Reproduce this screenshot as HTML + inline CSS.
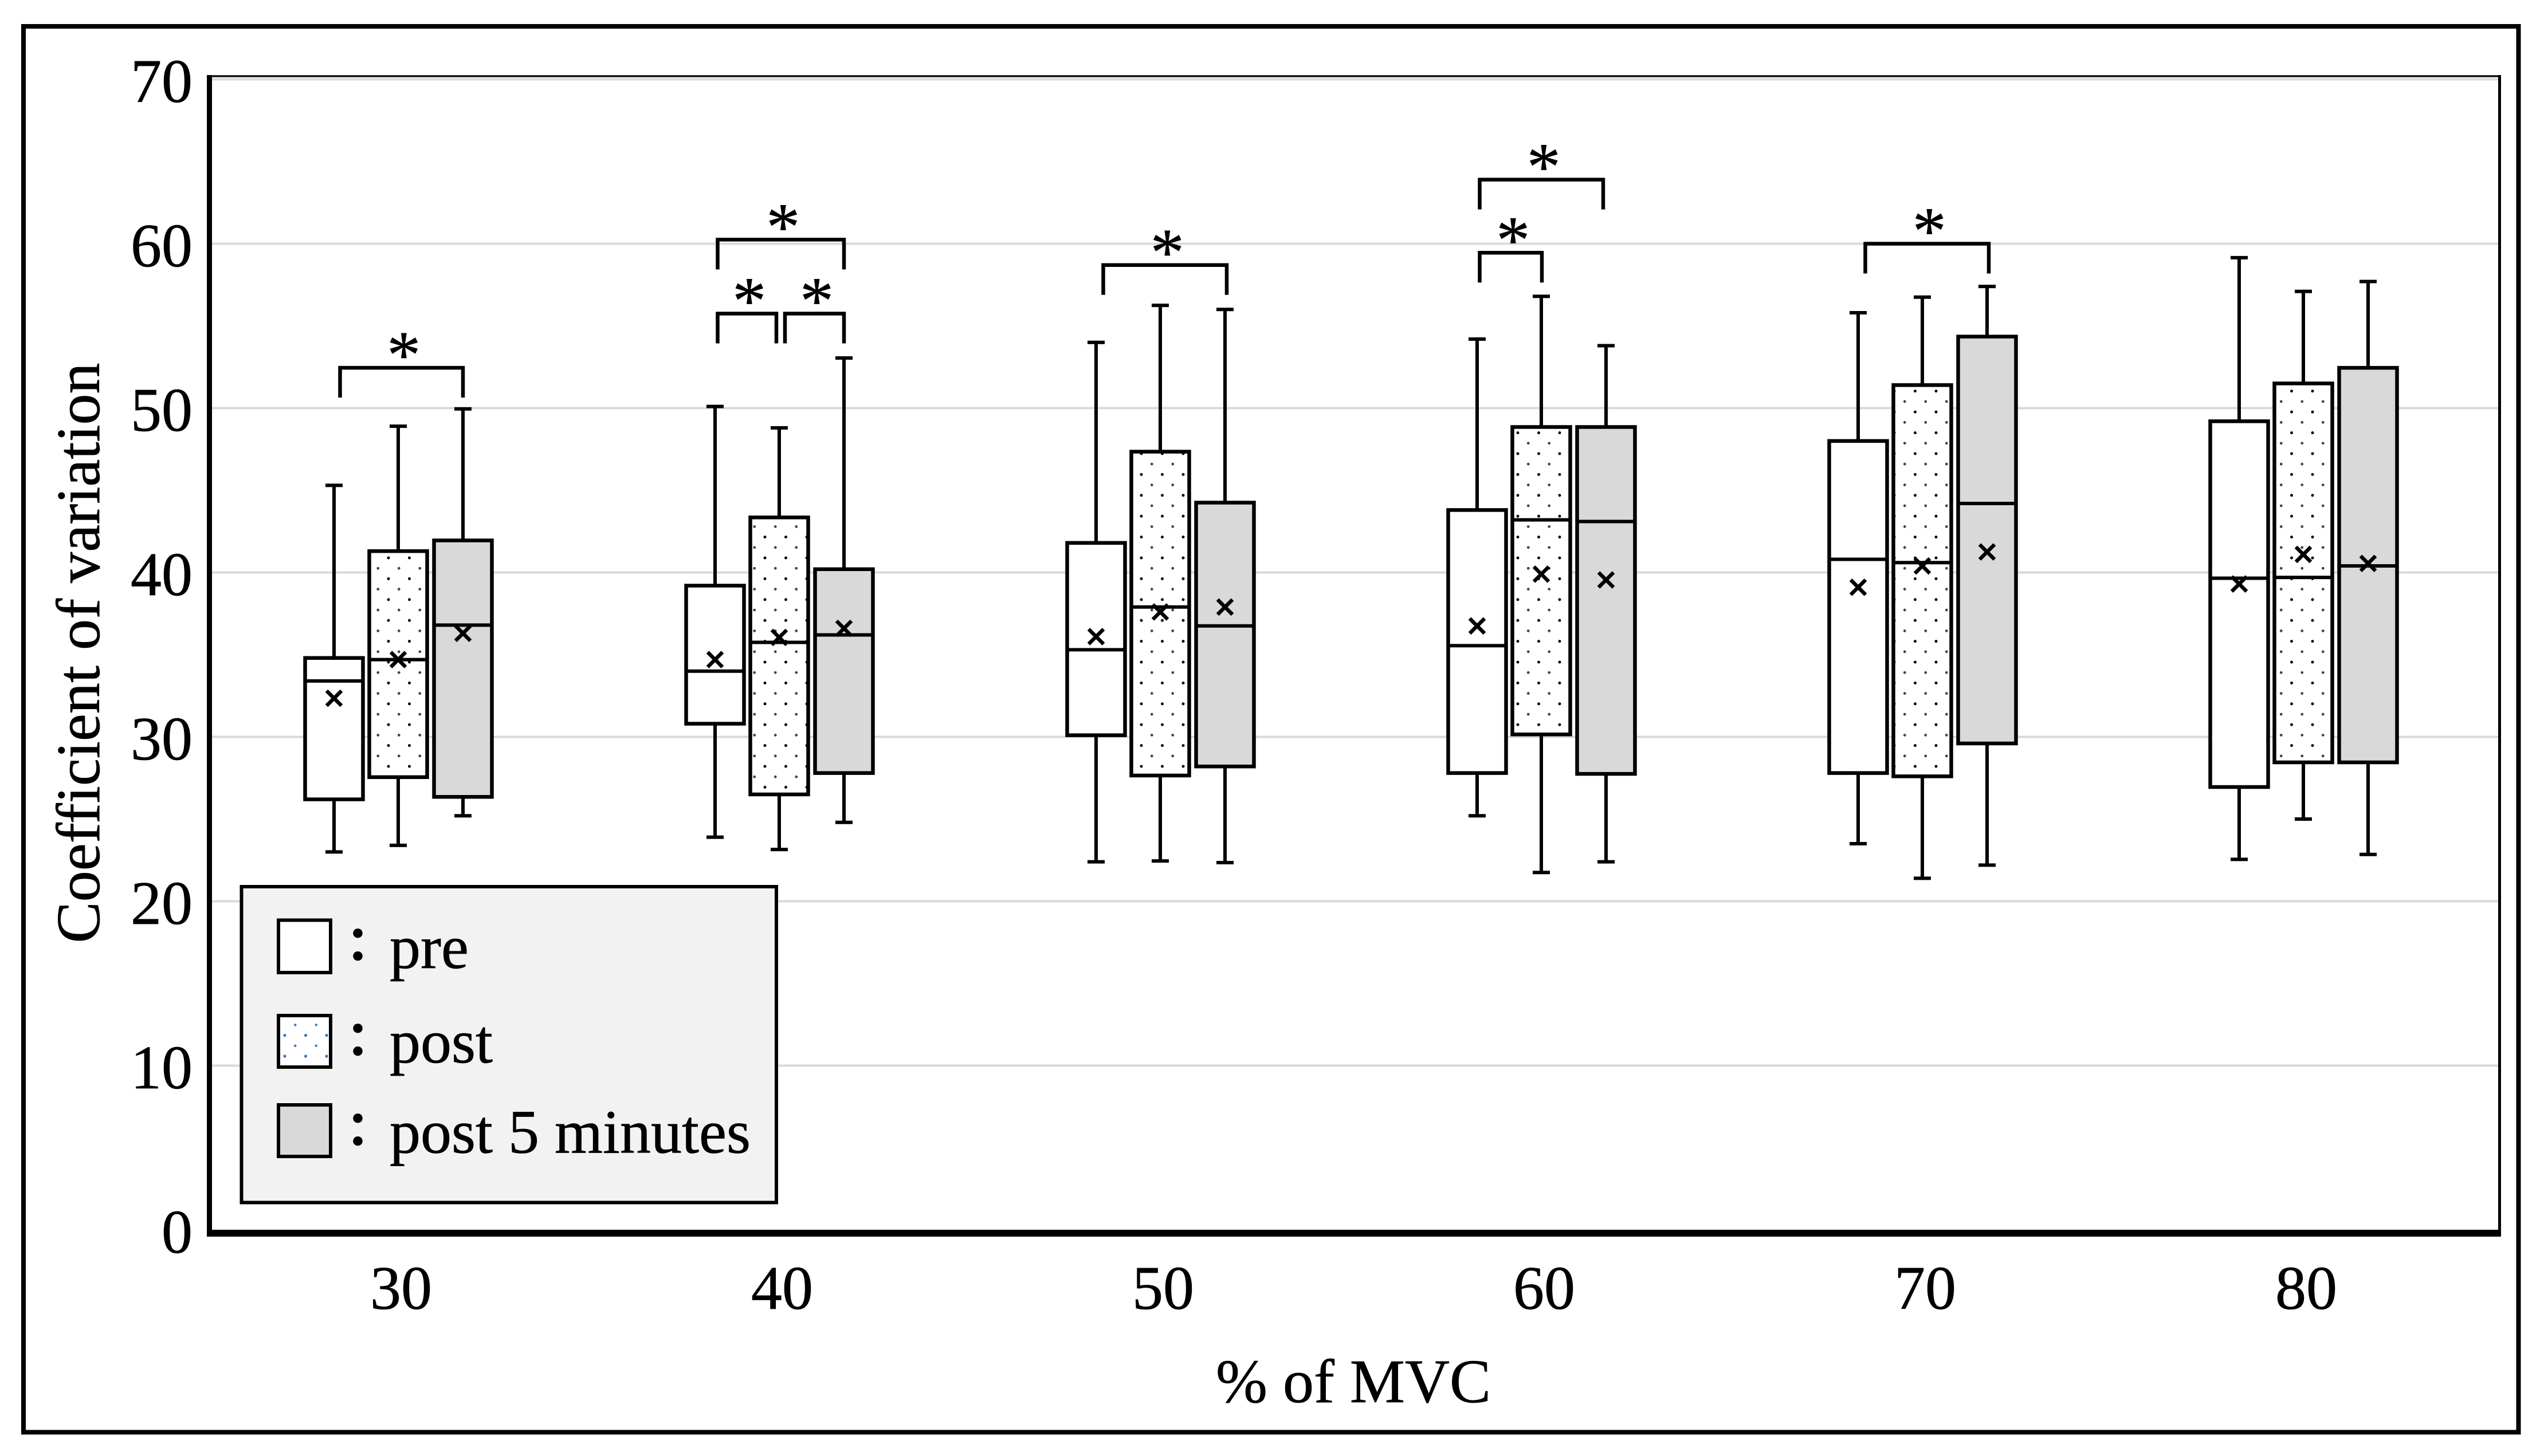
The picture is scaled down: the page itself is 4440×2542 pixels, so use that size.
<!DOCTYPE html>
<html lang="en">
<head>
<meta charset="utf-8">
<title>Coefficient of variation by % of MVC</title>
<style>
html,body{margin:0;padding:0;background:#fff;}
svg{display:block;}
text{font-family:"Liberation Serif","Noto Sans CJK JP",serif;fill:#000;font-size:108px;stroke:#000;stroke-width:0.7px;}
</style>
</head>
<body>
<svg id="chart" xmlns="http://www.w3.org/2000/svg" width="4440" height="2542" viewBox="0 0 4440 2542">
  <defs>
    <pattern id="dots" patternUnits="userSpaceOnUse" x="678" y="974" width="36.5" height="36.4">
      <circle cx="0" cy="0" r="2.5" fill="#000"/>
      <circle cx="36.5" cy="0" r="2.5" fill="#000"/>
      <circle cx="0" cy="36.4" r="2.5" fill="#000"/>
      <circle cx="36.5" cy="36.4" r="2.5" fill="#000"/>
      <circle cx="18.25" cy="18.2" r="2.4" fill="#444"/>
    </pattern>
    <pattern id="dots-legend" patternUnits="userSpaceOnUse" x="497" y="1807.6" width="36.5" height="36.4">
      <circle cx="0" cy="0" r="2.6" fill="#2f78c4"/>
      <circle cx="36.5" cy="0" r="2.6" fill="#2f78c4"/>
      <circle cx="0" cy="36.4" r="2.6" fill="#2f78c4"/>
      <circle cx="36.5" cy="36.4" r="2.6" fill="#2f78c4"/>
      <circle cx="18.25" cy="18.2" r="2.2" fill="#2f78c4"/>
    </pattern>
  </defs>

  <rect x="0" y="0" width="4440" height="2542" fill="#fff"/>
  <rect x="41" y="46" width="4354.5" height="2454.5" fill="none" stroke="#000" stroke-width="8"/>

  <g id="grid"></g>
  <g id="y-ticks"></g>
  <g id="x-ticks"></g>

  <line x1="361" y1="133" x2="4365" y2="133" stroke="#111" stroke-width="3.5"/>
  <line x1="4362.5" y1="131" x2="4362.5" y2="2159" stroke="#000" stroke-width="5"/>
  <line x1="365.5" y1="131" x2="365.5" y2="2159" stroke="#000" stroke-width="9"/>
  <line x1="361" y1="2153" x2="4365" y2="2153" stroke="#000" stroke-width="12"/>

  <text transform="translate(173,1140) rotate(-90)" text-anchor="middle" textLength="1013" lengthAdjust="spacingAndGlyphs">Coefficient of variation</text>
  <text x="2362" y="2448" text-anchor="middle">% of MVC</text>

  <g id="marks"></g>
  <g id="brackets"></g>

  <g>
    <rect x="421.5" y="1548" width="933.5" height="551.5" fill="#f2f2f2" stroke="#000" stroke-width="6"/>
    <g>
      <rect x="486" y="1606.5" width="91" height="91.5" fill="#fff" stroke="#000" stroke-width="6"/>
      <text x="624.5" y="1680" text-anchor="middle" style="font-family:'Noto Sans CJK JP',sans-serif;font-weight:700;font-size:83px">：</text>
      <text x="680" y="1690">pre</text>
    </g>
    <g>
      <rect x="486" y="1773" width="91" height="90" fill="#fff"/>
      <rect x="486" y="1773" width="91" height="90" fill="url(#dots-legend)" stroke="#000" stroke-width="6"/>
      <text x="624.5" y="1846" text-anchor="middle" style="font-family:'Noto Sans CJK JP',sans-serif;font-weight:700;font-size:83px">：</text>
      <text x="680" y="1855">post</text>
    </g>
    <g>
      <rect x="486" y="1929" width="91" height="90" fill="#d9d9d9" stroke="#000" stroke-width="6"/>
      <text x="624.5" y="2003" text-anchor="middle" style="font-family:'Noto Sans CJK JP',sans-serif;font-weight:700;font-size:83px">：</text>
      <text x="680" y="2012.5">post 5 minutes</text>
    </g>
  </g>
</svg>

<script>
const categories = [30, 40, 50, 60, 70, 80];
const yTicks = [0, 10, 20, 30, 40, 50, 60, 70];
const seriesNames = ['pre', 'post', 'post-5-minutes'];

const preLow  = [23.0, 23.9, 22.4, 25.2, 23.5, 22.55];
const preQ1   = [26.2, 30.8, 30.1, 27.8, 27.8, 26.95];
const preMed  = [33.4, 34.0, 35.3, 35.55, 40.8, 39.65];
const preQ3   = [34.8, 39.2, 41.8, 43.8, 48.0, 49.2];
const preHigh = [45.3, 50.1, 54.0, 54.2, 55.8, 59.15];
const preMean = [32.35, 34.7, 36.1, 36.75, 39.1, 39.3];

const postLow  = [23.4, 23.15, 22.45, 21.75, 21.4, 25.0];
const postQ1   = [27.55, 26.5, 27.65, 30.15, 27.6, 28.45];
const postMed  = [34.7, 35.75, 37.9, 43.2, 40.6, 39.7];
const postQ3   = [41.3, 43.35, 47.35, 48.85, 51.4, 51.5];
const postHigh = [48.9, 48.8, 56.25, 56.8, 56.75, 57.1];
const postMean = [34.7, 36.05, 37.6, 39.9, 40.4, 41.1];

const post5Low  = [25.2, 24.8, 22.35, 22.4, 22.2, 22.85];
const post5Q1   = [26.35, 27.8, 28.2, 27.75, 29.6, 28.45];
const post5Med  = [36.8, 36.2, 36.75, 43.1, 44.2, 40.4];
const post5Q3   = [41.95, 40.2, 44.25, 48.85, 54.35, 52.45];
const post5High = [49.95, 53.05, 56.0, 53.8, 57.4, 57.7];
const post5Mean = [36.3, 36.6, 37.9, 39.55, 41.25, 40.55];

const lows  = [preLow, postLow, post5Low];
const q1s   = [preQ1, postQ1, post5Q1];
const meds  = [preMed, postMed, post5Med];
const q3s   = [preQ3, postQ3, post5Q3];
const highs = [preHigh, postHigh, post5High];
const means = [preMean, postMean, post5Mean];

const bracketCategory = [0, 1, 1, 1, 2, 3, 3, 4];
const bracketFrom     = [0, 0, 0, 1, 0, 0, 0, 0];
const bracketTo       = [2, 2, 1, 2, 2, 2, 1, 2];
const bracketLevel    = [52.45, 60.25, 55.75, 55.75, 58.7, 63.9, 59.45, 60.0];

const bracketNudgeLeft  = [10.5, 4.5, 4.5, 10, 12.5, 4.5, 4.5, 12.5];
const bracketNudgeRight = [0, 0, -5, 0, 3, -5, 1, 3];

const NS = 'http://www.w3.org/2000/svg';
const yScale = v => 2147.5 - v * 28.7;
const xScale = i => 695 + 665 * i;
const seriesOffset = [-112, 0, 113];
const fills = ['#fff', 'url(#dots)', '#d9d9d9'];
const BOX_W = 101, CAP = 30, X_HALF = 13;

function make(tag, attrs, parent) {
  const n = document.createElementNS(NS, tag);
  for (const k in attrs) n.setAttribute(k, attrs[k]);
  parent.appendChild(n);
  return n;
}
function stroke(parent, x1, y1, x2, y2, w) {
  return make('line', {x1: x1, y1: y1, x2: x2, y2: y2, stroke: '#000', 'stroke-width': w}, parent);
}

const gridG = document.getElementById('grid');
const yTickG = document.getElementById('y-ticks');
const xTickG = document.getElementById('x-ticks');
const marksG = document.getElementById('marks');
const bracketsG = document.getElementById('brackets');

yTicks.forEach(v => {
  if (v > 0) {
    const g = make('line', {x1: 370, y1: yScale(v), x2: 4360, y2: yScale(v), stroke: '#d9d9d9', 'stroke-width': 4}, gridG);
    
    
  }
  const t = make('text', {x: 336, y: yScale(v) + 39.5, 'text-anchor': 'end'}, yTickG);
  t.textContent = v;
  
  
});

categories.forEach((c, i) => {
  const t = make('text', {x: xScale(i) + 5, y: 2285, 'text-anchor': 'middle'}, xTickG);
  t.textContent = c;
  
  
});

categories.forEach((c, i) => {
  seriesNames.forEach((s, k) => {
    const cx = xScale(i) + seriesOffset[k];
    const yLow = yScale(lows[k][i]), yQ1 = yScale(q1s[k][i]), yMed = yScale(meds[k][i]);
    const yQ3 = yScale(q3s[k][i]), yHigh = yScale(highs[k][i]), yMean = yScale(means[k][i]);
    const id = s + '-' + c;

    const group = make('g', {}, marksG);
    
    

    const upper = stroke(group, cx, yHigh, cx, yQ3, 6);
    
    

    const lower = stroke(group, cx, yQ1, cx, yLow, 6);
    
    

    const capHigh = stroke(group, cx - CAP / 2, yHigh, cx + CAP / 2, yHigh, 6);
    
    

    const capLow = stroke(group, cx - CAP / 2, yLow, cx + CAP / 2, yLow, 6);
    
    

    if (k === 1) {
      const under = make('rect', {x: cx - BOX_W / 2, y: yQ3, width: BOX_W, height: yQ1 - yQ3, fill: '#fff'}, group);
      
      
    }
    const box = make('rect', {x: cx - BOX_W / 2, y: yQ3, width: BOX_W, height: yQ1 - yQ3, fill: fills[k], stroke: '#000', 'stroke-width': 6.5}, group);
    
    

    const med = stroke(group, cx - BOX_W / 2, yMed, cx + BOX_W / 2, yMed, 6);
    
    

    const m1 = stroke(group, cx - X_HALF, yMean - X_HALF, cx + X_HALF, yMean + X_HALF, 6.5);
    
    

    const m2 = stroke(group, cx - X_HALF, yMean + X_HALF, cx + X_HALF, yMean - X_HALF, 6.5);
    
    
  });
});

bracketCategory.forEach((cat, b) => {
  const left = xScale(cat) + seriesOffset[bracketFrom[b]] + bracketNudgeLeft[b];
  const right = xScale(cat) + seriesOffset[bracketTo[b]] + bracketNudgeRight[b];
  const top = yScale(bracketLevel[b]);
  const id = categories[cat] + '-' + b;

  const path = make('path', {
    d: 'M' + left + ' ' + (top + 52) + 'V' + top + 'H' + right + 'V' + (top + 52),
    fill: 'none', stroke: '#000', 'stroke-width': 6.5
  }, bracketsG);
  
  

  const star = make('text', {x: (left + right) / 2 + 4, y: top + 17, 'text-anchor': 'middle'}, bracketsG);
  star.setAttribute('style', 'font-size:118px');
  star.textContent = '*';
  
  
});
</script>
</body>
</html>
